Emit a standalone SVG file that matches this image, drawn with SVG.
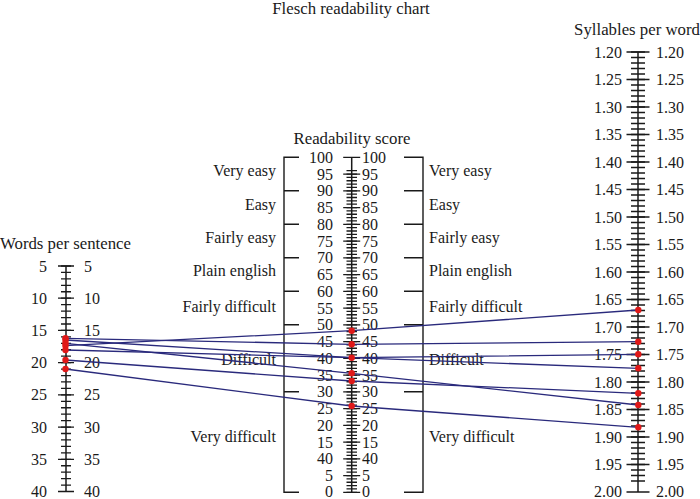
<svg xmlns="http://www.w3.org/2000/svg" width="700" height="499" viewBox="0 0 700 499">
<style>
text{font-family:"Liberation Serif","Times New Roman",serif;font-size:16px;fill:#1a1a1a}
.w{font-size:16.8px}
.e{text-anchor:end}
.m{text-anchor:middle}
.tk{stroke:#1a1a1a;stroke-width:1.3;fill:none}
.ax{stroke:#1a1a1a;stroke-width:1.5;fill:none}
.br{stroke:#1a1a1a;stroke-width:1.4;fill:none}
.cn{stroke:#2a2a7c;stroke-width:1.3;fill:none}
.pt{fill:#e01818}
</style>
<rect width="700" height="499" fill="#fff"/>
<text id="title" class="m w" x="351" y="14">Flesch readability chart</text>

<g id="scale-words">
<text class="w" x="0" y="249">Words per sentence</text>
<path class="ax" d="M66,266V491.5"/>
<path class="tk" d="M61,266h10m-10 6.443h10m-10 6.443h10m-10 6.443h10m-10 6.443h10m-10 6.443h10m-10 6.443h10m-10 6.443h10m-10 6.443h10m-10 6.443h10m-10 6.443h10m-10 6.443h10m-10 6.443h10m-10 6.443h10m-10 6.443h10m-10 6.443h10m-10 6.443h10m-10 6.443h10m-10 6.443h10m-10 6.443h10m-10 6.443h10m-10 6.443h10m-10 6.443h10m-10 6.443h10m-10 6.443h10m-10 6.443h10m-10 6.443h10m-10 6.443h10m-10 6.443h10m-10 6.443h10m-10 6.443h10m-10 6.443h10m-10 6.443h10m-10 6.443h10m-10 6.443h10"/>
<path class="tk" d="M58,266h16M58,298.22h16M58,330.43h16M58,362.65h16M58,394.86h16M58,427.08h16M58,459.29h16M58,491.51h16"/>
<g class="e">
<text x="47" y="271.5">5</text><text x="47" y="303.7">10</text><text x="47" y="335.9">15</text><text x="47" y="368.1">20</text><text x="47" y="400.4">25</text><text x="47" y="432.6">30</text><text x="47" y="464.8">35</text><text x="47" y="496.5">40</text>
</g>
<text x="84" y="271.5">5</text><text x="84" y="303.7">10</text><text x="84" y="335.9">15</text><text x="84" y="368.1">20</text><text x="84" y="400.4">25</text><text x="84" y="432.6">30</text><text x="84" y="464.8">35</text><text x="84" y="496.5">40</text>
</g>

<g id="scale-score">
<text class="m w" x="352" y="144">Readability score</text>
<path class="ax" d="M351.7,157.3V492.3"/>
<path class="tk" d="M346.5,492.3h10.5m-10.5-3.35h10.5m-10.5-3.35h10.5m-10.5-3.35h10.5m-10.5-3.35h10.5m-10.5-3.35h10.5m-10.5-3.35h10.5m-10.5-3.35h10.5m-10.5-3.35h10.5m-10.5-3.35h10.5m-10.5-3.35h10.5m-10.5-3.35h10.5m-10.5-3.35h10.5m-10.5-3.35h10.5m-10.5-3.35h10.5m-10.5-3.35h10.5m-10.5-3.35h10.5m-10.5-3.35h10.5m-10.5-3.35h10.5m-10.5-3.35h10.5m-10.5-3.35h10.5m-10.5-3.35h10.5m-10.5-3.35h10.5m-10.5-3.35h10.5m-10.5-3.35h10.5m-10.5-3.35h10.5m-10.5-3.35h10.5m-10.5-3.35h10.5m-10.5-3.35h10.5m-10.5-3.35h10.5m-10.5-3.35h10.5m-10.5-3.35h10.5m-10.5-3.35h10.5m-10.5-3.35h10.5m-10.5-3.35h10.5m-10.5-3.35h10.5m-10.5-3.35h10.5m-10.5-3.35h10.5m-10.5-3.35h10.5m-10.5-3.35h10.5m-10.5-3.35h10.5m-10.5-3.35h10.5m-10.5-3.35h10.5m-10.5-3.35h10.5m-10.5-3.35h10.5m-10.5-3.35h10.5m-10.5-3.35h10.5m-10.5-3.35h10.5m-10.5-3.35h10.5m-10.5-3.35h10.5m-10.5-3.35h10.5m-10.5-3.35h10.5m-10.5-3.35h10.5m-10.5-3.35h10.5m-10.5-3.35h10.5m-10.5-3.35h10.5m-10.5-3.35h10.5m-10.5-3.35h10.5m-10.5-3.35h10.5m-10.5-3.35h10.5m-10.5-3.35h10.5m-10.5-3.35h10.5m-10.5-3.35h10.5m-10.5-3.35h10.5m-10.5-3.35h10.5m-10.5-3.35h10.5m-10.5-3.35h10.5m-10.5-3.35h10.5m-10.5-3.35h10.5m-10.5-3.35h10.5m-10.5-3.35h10.5m-10.5-3.35h10.5m-10.5-3.35h10.5m-10.5-3.35h10.5m-10.5-3.35h10.5m-10.5-3.35h10.5m-10.5-3.35h10.5m-10.5-3.35h10.5m-10.5-3.35h10.5m-10.5-3.35h10.5m-10.5-3.35h10.5m-10.5-3.35h10.5m-10.5-3.35h10.5m-10.5-3.35h10.5m-10.5-3.35h10.5m-10.5-3.35h10.5m-10.5-3.35h10.5m-10.5-3.35h10.5m-10.5-3.35h10.5m-10.5-3.35h10.5m-10.5-3.35h10.5m-10.5-3.35h10.5m-10.5-3.35h10.5m-10.5-3.35h10.5m-10.5-3.35h10.5m-10.5-3.35h10.5m-10.5-3.35h10.5"/>
<path class="tk" d="M343.2,157.3h17M343.2,174.05h17M343.2,190.8h17M343.2,207.55h17M343.2,224.3h17M343.2,241.05h17M343.2,257.8h17M343.2,274.55h17M343.2,291.3h17M343.2,308.05h17M343.2,324.8h17M343.2,341.55h17M343.2,358.3h17M343.2,375.05h17M343.2,391.8h17M343.2,408.55h17M343.2,425.3h17M343.2,442.05h17M343.2,458.8h17M343.2,475.55h17M343.2,492.3h17"/>
<g class="e">
<text x="333" y="162.8">100</text><text x="333" y="179.55">95</text><text x="333" y="196.3">90</text><text x="333" y="213.05">85</text><text x="333" y="229.8">80</text><text x="333" y="246.55">75</text><text x="333" y="263.3">70</text><text x="333" y="280.05">65</text><text x="333" y="296.8">60</text><text x="333" y="313.55">55</text><text x="333" y="330.3">50</text><text x="333" y="347.05">45</text><text x="333" y="363.8">40</text><text x="333" y="380.55">35</text><text x="333" y="397.3">30</text><text x="333" y="414.05">25</text><text x="333" y="430.8">20</text><text x="333" y="447.55">15</text><text x="333" y="464.3">40</text><text x="333" y="481.05">5</text><text x="333" y="496.6">0</text>
</g>
<text x="362" y="162.8">100</text><text x="362" y="179.55">95</text><text x="362" y="196.3">90</text><text x="362" y="213.05">85</text><text x="362" y="229.8">80</text><text x="362" y="246.55">75</text><text x="362" y="263.3">70</text><text x="362" y="280.05">65</text><text x="362" y="296.8">60</text><text x="362" y="313.55">55</text><text x="362" y="330.3">50</text><text x="362" y="347.05">45</text><text x="362" y="363.8">40</text><text x="362" y="380.55">35</text><text x="362" y="397.3">30</text><text x="362" y="414.05">25</text><text x="362" y="430.8">20</text><text x="362" y="447.55">15</text><text x="362" y="464.3">40</text><text x="362" y="481.05">5</text><text x="362" y="496.6">0</text>
</g>

<g id="bracket-left">
<path class="br" d="M299,157.3H284V492.3H299M284,190.8H299M284,224.3H299M284,257.8H299M284,291.3H299M284,324.8H299M284,391.8H299"/>
<g class="e w">
<text x="276" y="176">Very easy</text><text x="276" y="210">Easy</text><text x="276" y="242.5">Fairly easy</text><text x="276" y="275.5">Plain english</text><text x="276" y="311.5">Fairly difficult</text><text x="276" y="364.5">Difficult</text><text x="276" y="442">Very difficult</text>
</g>
</g>

<g id="bracket-right">
<path class="br" d="M404,157.3H423V492.3H404M423,190.8H404M423,224.3H404M423,257.8H404M423,291.3H404M423,324.8H404M423,391.8H404"/>
<g class="w">
<text x="429" y="176">Very easy</text><text x="429" y="210">Easy</text><text x="429" y="242.5">Fairly easy</text><text x="429" y="275.5">Plain english</text><text x="429" y="311.5">Fairly difficult</text><text x="429" y="364.5">Difficult</text><text x="429" y="442">Very difficult</text>
</g>
</g>

<g id="scale-syllables">
<text class="m w" x="637" y="34.5">Syllables per word</text>
<path class="ax" d="M638,52V492"/>
<path class="tk" d="M631,52h14m-14 5.5h14m-14 5.5h14m-14 5.5h14m-14 5.5h14m-14 5.5h14m-14 5.5h14m-14 5.5h14m-14 5.5h14m-14 5.5h14m-14 5.5h14m-14 5.5h14m-14 5.5h14m-14 5.5h14m-14 5.5h14m-14 5.5h14m-14 5.5h14m-14 5.5h14m-14 5.5h14m-14 5.5h14m-14 5.5h14m-14 5.5h14m-14 5.5h14m-14 5.5h14m-14 5.5h14m-14 5.5h14m-14 5.5h14m-14 5.5h14m-14 5.5h14m-14 5.5h14m-14 5.5h14m-14 5.5h14m-14 5.5h14m-14 5.5h14m-14 5.5h14m-14 5.5h14m-14 5.5h14m-14 5.5h14m-14 5.5h14m-14 5.5h14m-14 5.5h14m-14 5.5h14m-14 5.5h14m-14 5.5h14m-14 5.5h14m-14 5.5h14m-14 5.5h14m-14 5.5h14m-14 5.5h14m-14 5.5h14m-14 5.5h14m-14 5.5h14m-14 5.5h14m-14 5.5h14m-14 5.5h14m-14 5.5h14m-14 5.5h14m-14 5.5h14m-14 5.5h14m-14 5.5h14m-14 5.5h14m-14 5.5h14m-14 5.5h14m-14 5.5h14m-14 5.5h14m-14 5.5h14m-14 5.5h14m-14 5.5h14m-14 5.5h14m-14 5.5h14m-14 5.5h14m-14 5.5h14m-14 5.5h14m-14 5.5h14m-14 5.5h14m-14 5.5h14m-14 5.5h14m-14 5.5h14m-14 5.5h14"/>
<path class="tk" d="M626.5,52h23M626.5,79.5h23M626.5,107h23M626.5,134.5h23M626.5,162h23M626.5,189.5h23M626.5,217h23M626.5,244.5h23M626.5,272h23M626.5,299.5h23M626.5,327h23M626.5,354.5h23M626.5,382h23M626.5,409.5h23M626.5,437h23M626.5,464.5h23M626.5,492h23"/>
<g class="e">
<text x="622" y="57.5">1.20</text><text x="622" y="85">1.25</text><text x="622" y="112.5">1.30</text><text x="622" y="140">1.35</text><text x="622" y="167.5">1.40</text><text x="622" y="195">1.45</text><text x="622" y="222.5">1.50</text><text x="622" y="250">1.55</text><text x="622" y="277.5">1.60</text><text x="622" y="305">1.65</text><text x="622" y="332.5">1.70</text><text x="622" y="360">1.75</text><text x="622" y="387.5">1.80</text><text x="622" y="415">1.85</text><text x="622" y="442.5">1.90</text><text x="622" y="470">1.95</text><text x="622" y="496.6">2.00</text>
</g>
<text x="656" y="57.5">1.20</text><text x="656" y="85">1.25</text><text x="656" y="112.5">1.30</text><text x="656" y="140">1.35</text><text x="656" y="167.5">1.40</text><text x="656" y="195">1.45</text><text x="656" y="222.5">1.50</text><text x="656" y="250">1.55</text><text x="656" y="277.5">1.60</text><text x="656" y="305">1.65</text><text x="656" y="332.5">1.70</text><text x="656" y="360">1.75</text><text x="656" y="387.5">1.80</text><text x="656" y="415">1.85</text><text x="656" y="442.5">1.90</text><text x="656" y="470">1.95</text><text x="656" y="496.6">2.00</text>
</g>

<g id="connectors">
<polyline class="cn" points="65.5,345.7 351.7,330.7 638.3,310"/>
<polyline class="cn" points="65.5,338.3 351.7,344.3 638.3,341.7"/>
<polyline class="cn" points="65.5,350 351.7,357.7 638.3,354.3"/>
<polyline class="cn" points="65.5,340 351.7,357.7 638.3,368.3"/>
<polyline class="cn" points="65.5,343.3 351.7,373.3 638.3,405"/>
<polyline class="cn" points="65.5,360 351.7,381 638.3,393.3"/>
<polyline class="cn" points="65.5,369 351.7,406 638.3,427.3"/>
</g>

<g id="points" class="pt">
<circle cx="65.5" cy="338.3" r="3.2"/><circle cx="65.5" cy="340" r="3.2"/><circle cx="65.5" cy="343.3" r="3.2"/><circle cx="65.5" cy="345.7" r="3.2"/><circle cx="65.5" cy="350" r="3.2"/><circle cx="65.5" cy="360" r="3.2"/><circle cx="65.5" cy="369" r="3.2"/>
<circle cx="351.7" cy="330.7" r="3.2"/><circle cx="351.7" cy="344.3" r="3.2"/><circle cx="351.7" cy="357.7" r="3.2"/><circle cx="351.7" cy="373.3" r="3.2"/><circle cx="351.7" cy="381" r="3.2"/><circle cx="351.7" cy="406" r="3.2"/>
<circle cx="638.3" cy="310" r="3.2"/><circle cx="638.3" cy="341.7" r="3.2"/><circle cx="638.3" cy="354.3" r="3.2"/><circle cx="638.3" cy="368.3" r="3.2"/><circle cx="638.3" cy="393.3" r="3.2"/><circle cx="638.3" cy="405" r="3.2"/><circle cx="638.3" cy="427.3" r="3.2"/>
</g>
</svg>
